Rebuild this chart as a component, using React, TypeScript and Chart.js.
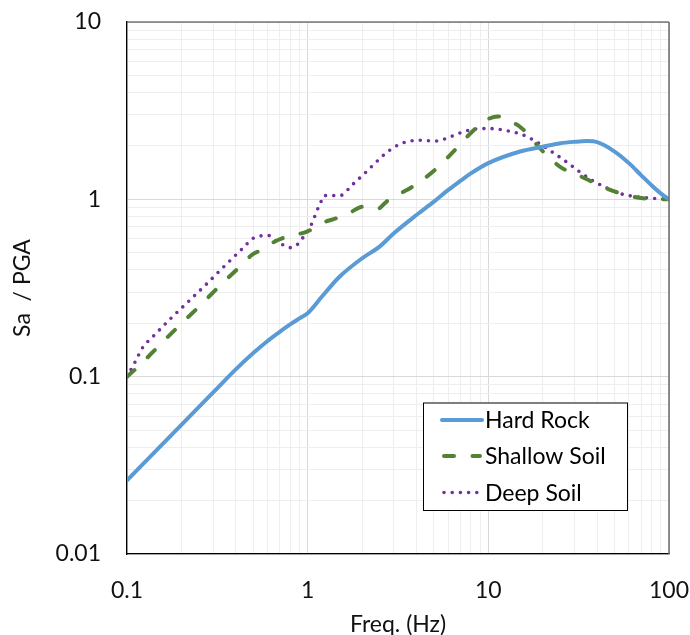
import React, { useEffect, useRef } from "react";
import { Chart, registerables } from "chart.js";

Chart.register(...registerables);

// ---- Data ----
const hardRockFreq = [0.1, 0.2, 0.3, 0.4, 0.5, 0.6, 0.7, 0.8, 0.9, 1.0, 1.2, 1.5, 2, 2.5, 3, 4, 5, 6, 7, 8, 10, 15, 20, 25, 30, 35, 40, 50, 60, 70, 80, 90, 100];
const hardRockSa = [0.026, 0.0535, 0.0815, 0.11, 0.136, 0.159, 0.179, 0.197, 0.213, 0.228, 0.283, 0.366, 0.465, 0.541, 0.644, 0.816, 0.97, 1.13, 1.27, 1.4, 1.6, 1.86, 1.98, 2.07, 2.11, 2.13, 2.1, 1.86, 1.6, 1.37, 1.2, 1.08, 1.0];

const shallowFreq = [0.1, 0.1155, 0.149, 0.192, 0.248, 0.32, 0.413, 0.5, 0.545, 0.632, 0.75, 1.0, 1.22, 1.44, 1.71, 2.03, 2.41, 2.79, 3.81, 5.06, 6.54, 8.42, 9.8, 11.3, 13.4, 15.3, 19.7, 22.4, 25.6, 30.4, 35.8, 50.3, 71.9, 100];
const shallowSa = [0.1, 0.114, 0.148, 0.1915, 0.246, 0.319, 0.409, 0.492, 0.514, 0.566, 0.611, 0.66, 0.739, 0.782, 0.841, 0.91, 0.879, 0.988, 1.18, 1.465, 1.9, 2.49, 2.81, 2.93, 2.74, 2.52, 1.9, 1.67, 1.5, 1.39, 1.285, 1.105, 1.014, 1.0];

const deepFreq = [0.1, 0.1107, 0.122, 0.1406, 0.1751, 0.2194, 0.2748, 0.3428, 0.4295, 0.5, 0.549, 0.608, 0.662, 0.724, 0.795, 0.871, 0.928, 1.043, 1.13, 1.18, 1.23, 1.36, 1.51, 1.77, 2.07, 2.4, 2.79, 3.33, 4.08, 5.1, 6.2, 7.5, 9.2, 10.3, 12.6, 15.4, 18.6, 22.0, 26.3, 31.2, 37.0, 44.4, 53.2, 65.2, 80.8, 100];
const deepSa = [0.1, 0.1206, 0.1457, 0.17, 0.2134, 0.266, 0.332, 0.4157, 0.52, 0.6036, 0.622, 0.625, 0.585, 0.556, 0.534, 0.553, 0.596, 0.714, 0.871, 0.958, 1.05, 1.05, 1.05, 1.21, 1.403, 1.625, 1.866, 2.07, 2.153, 2.13, 2.258, 2.43, 2.505, 2.505, 2.44, 2.317, 2.1, 1.88, 1.66, 1.458, 1.29, 1.17, 1.081, 1.035, 1.014, 1.0];

const seriesLabels = ["Hard Rock", "Shallow Soil", "Deep Soil"];
const xDecades = [0.1, 1, 10, 100];
const yDecades = [0.01, 0.1, 1, 10];
const minorSteps = [1, 2, 3, 4, 5, 6, 7, 8, 9];

const xTitle = "Freq. (Hz)";
const yTitle = "Sa  / PGA";

const FONT = "Lato, 'Open Sans', sans-serif";

function buildTicks(decades: number[]) {
  const out: number[] = [];
  for (let i = 0; i < decades.length; i++) {
    const d = decades[i];
    if (i === decades.length - 1) {
      out.push(d);
    } else {
      for (const m of minorSteps) out.push(parseFloat((d * m).toPrecision(6)));
    }
  }
  return out;
}
const xTicks = buildTicks(xDecades);
const yTicks = buildTicks(yDecades);

function isDecade(v: number | undefined) {
  if (v === undefined || v <= 0) return false;
  const l = Math.log10(v);
  return Math.abs(l - Math.round(l)) < 1e-9;
}

const toPoints = (xs: number[], ys: number[]) => xs.map((x, i) => ({ x, y: ys[i] }));

const framePlugin = {
  id: "frame",
  afterDatasetsDraw(chart: any) {
    const { ctx, chartArea: a } = chart;
    ctx.save();
    ctx.strokeStyle = "#3a3a3a";
    ctx.lineWidth = 1.2;
    ctx.beginPath();
    ctx.moveTo(a.left, a.top);
    ctx.lineTo(a.right, a.top);
    ctx.stroke();
    ctx.strokeStyle = "#6a6a6a";
    ctx.lineWidth = 1.5;
    ctx.beginPath();
    ctx.moveTo(a.right, a.top);
    ctx.lineTo(a.right, a.bottom);
    ctx.stroke();
    ctx.restore();
  },
};

const legendPlugin = {
  id: "boxLegend",
  afterDraw(chart: any) {
    const { ctx } = chart;
    const bx = 423, by = 402.5, bw = 204, bh = 107.5;
    ctx.save();
    ctx.fillStyle = "#ffffff";
    ctx.fillRect(bx, by, bw, bh);
    ctx.strokeStyle = "#000000";
    ctx.lineWidth = 1;
    ctx.strokeRect(bx + 0.5, by + 0.5, bw, bh);
    const rows = [420, 456, 492.5];
    chart.data.datasets.forEach((ds: any, i: number) => {
      const y = rows[i];
      ctx.save();
      ctx.strokeStyle = ds.borderColor;
      ctx.lineWidth = ds.borderWidth;
      ctx.lineCap = ds.borderCapStyle || "butt";
      ctx.setLineDash(ds.borderDash || []);
      ctx.beginPath();
      if (ds.borderDash && ds.borderDash.length) {
        ctx.moveTo(444, y);
        ctx.lineTo(480, y);
      } else {
        ctx.moveTo(442, y);
        ctx.lineTo(482, y);
      }
      ctx.stroke();
      ctx.restore();
      ctx.fillStyle = "#000000";
      ctx.font = `23px ${FONT}`;
      ctx.textAlign = "left";
      ctx.textBaseline = "middle";
      ctx.fillText(ds.label, 485, y + 1);
    });
    ctx.restore();
  },
};

export default function App() {
  const canvasRef = useRef<HTMLCanvasElement | null>(null);

  useEffect(() => {
    if (!canvasRef.current) return;
    const chart = new Chart(canvasRef.current, {
      type: "scatter",
      data: {
        datasets: [
          {
            label: seriesLabels[0],
            data: toPoints(hardRockFreq, hardRockSa),
            showLine: true,
            borderColor: "#5B9BD5",
            backgroundColor: "#5B9BD5",
            borderWidth: 4,
            pointRadius: 0,
            cubicInterpolationMode: "monotone",
            borderCapStyle: "round",
            borderJoinStyle: "round",
          },
          {
            label: seriesLabels[1],
            data: toPoints(shallowFreq, shallowSa),
            showLine: true,
            borderColor: "#548235",
            backgroundColor: "#548235",
            borderWidth: 4,
            borderDash: [10, 18.5],
            borderCapStyle: "round",
            pointRadius: 0,
            cubicInterpolationMode: "monotone",
          },
          {
            label: seriesLabels[2],
            data: toPoints(deepFreq, deepSa),
            showLine: true,
            borderColor: "#7030A0",
            backgroundColor: "#7030A0",
            borderWidth: 3.6,
            borderDash: [0, 8.2],
            borderCapStyle: "round",
            pointRadius: 0,
            cubicInterpolationMode: "monotone",
          },
        ] as any,
      },
      options: {
        animation: false,
        responsive: false,
        layout: { padding: { top: 22, right: 21, bottom: 0, left: 0 } },
        plugins: {
          legend: { display: false },
          tooltip: { enabled: false },
        },
        scales: {
          x: {
            type: "logarithmic",
            min: 0.1,
            max: 100,
            afterBuildTicks: (scale: any) => {
              scale.ticks = xTicks.map((v) => ({ value: v }));
            },
            afterFit: (scale: any) => {
              scale.height = 81;
              scale.paddingLeft = 0;
              scale.paddingRight = 0;
              scale.paddingTop = 0;
              scale.paddingBottom = 0;
            },
            ticks: {
              autoSkip: false,
              maxRotation: 0,
              padding: 23,
              color: "#111111",
              font: { family: FONT, size: 23 },
              callback: (v: any) => (isDecade(Number(v)) ? String(Number(v)) : ""),
            },
            grid: {
              drawTicks: false,
              color: (c: any) => (isDecade(c.tick && c.tick.value) ? "#d9d9d9" : "#eeeeee"),
              lineWidth: 1,
            },
            border: { display: true, color: "#000000", width: 1.3 },
            title: {
              display: true,
              text: xTitle,
              color: "#111111",
              font: { family: FONT, size: 23, lineHeight: 1 },
              padding: { top: 0, bottom: -1.5 },
            },
          },
          y: {
            type: "logarithmic",
            min: 0.01,
            max: 10,
            afterBuildTicks: (scale: any) => {
              scale.ticks = yTicks.map((v) => ({ value: v }));
            },
            afterFit: (scale: any) => {
              scale.width = 127;
              scale.paddingLeft = 0;
              scale.paddingRight = 0;
              scale.paddingTop = 0;
              scale.paddingBottom = 0;
            },
            ticks: {
              autoSkip: false,
              padding: 26,
              color: "#111111",
              font: { family: FONT, size: 23 },
              callback: (v: any) => (isDecade(Number(v)) ? String(Number(v)) : ""),
            },
            grid: {
              drawTicks: false,
              color: (c: any) => (isDecade(c.tick && c.tick.value) ? "#d9d9d9" : "#eeeeee"),
              lineWidth: 1,
            },
            border: { display: true, color: "#000000", width: 1.3 },
            title: {
              display: true,
              text: yTitle,
              color: "#111111",
              font: { family: FONT, size: 23, lineHeight: 1.2 },
              padding: { top: 9, bottom: 0 },
            },
          },
        },
      } as any,
      plugins: [framePlugin, legendPlugin],
    });
    return () => chart.destroy();
  }, []);

  return (
    <div style={{ position: "fixed", left: 0, top: 0, width: 690, height: 635, background: "#fff" }}>
      <canvas ref={canvasRef} width={690} height={635} style={{ display: "block" }} />
    </div>
  );
}
